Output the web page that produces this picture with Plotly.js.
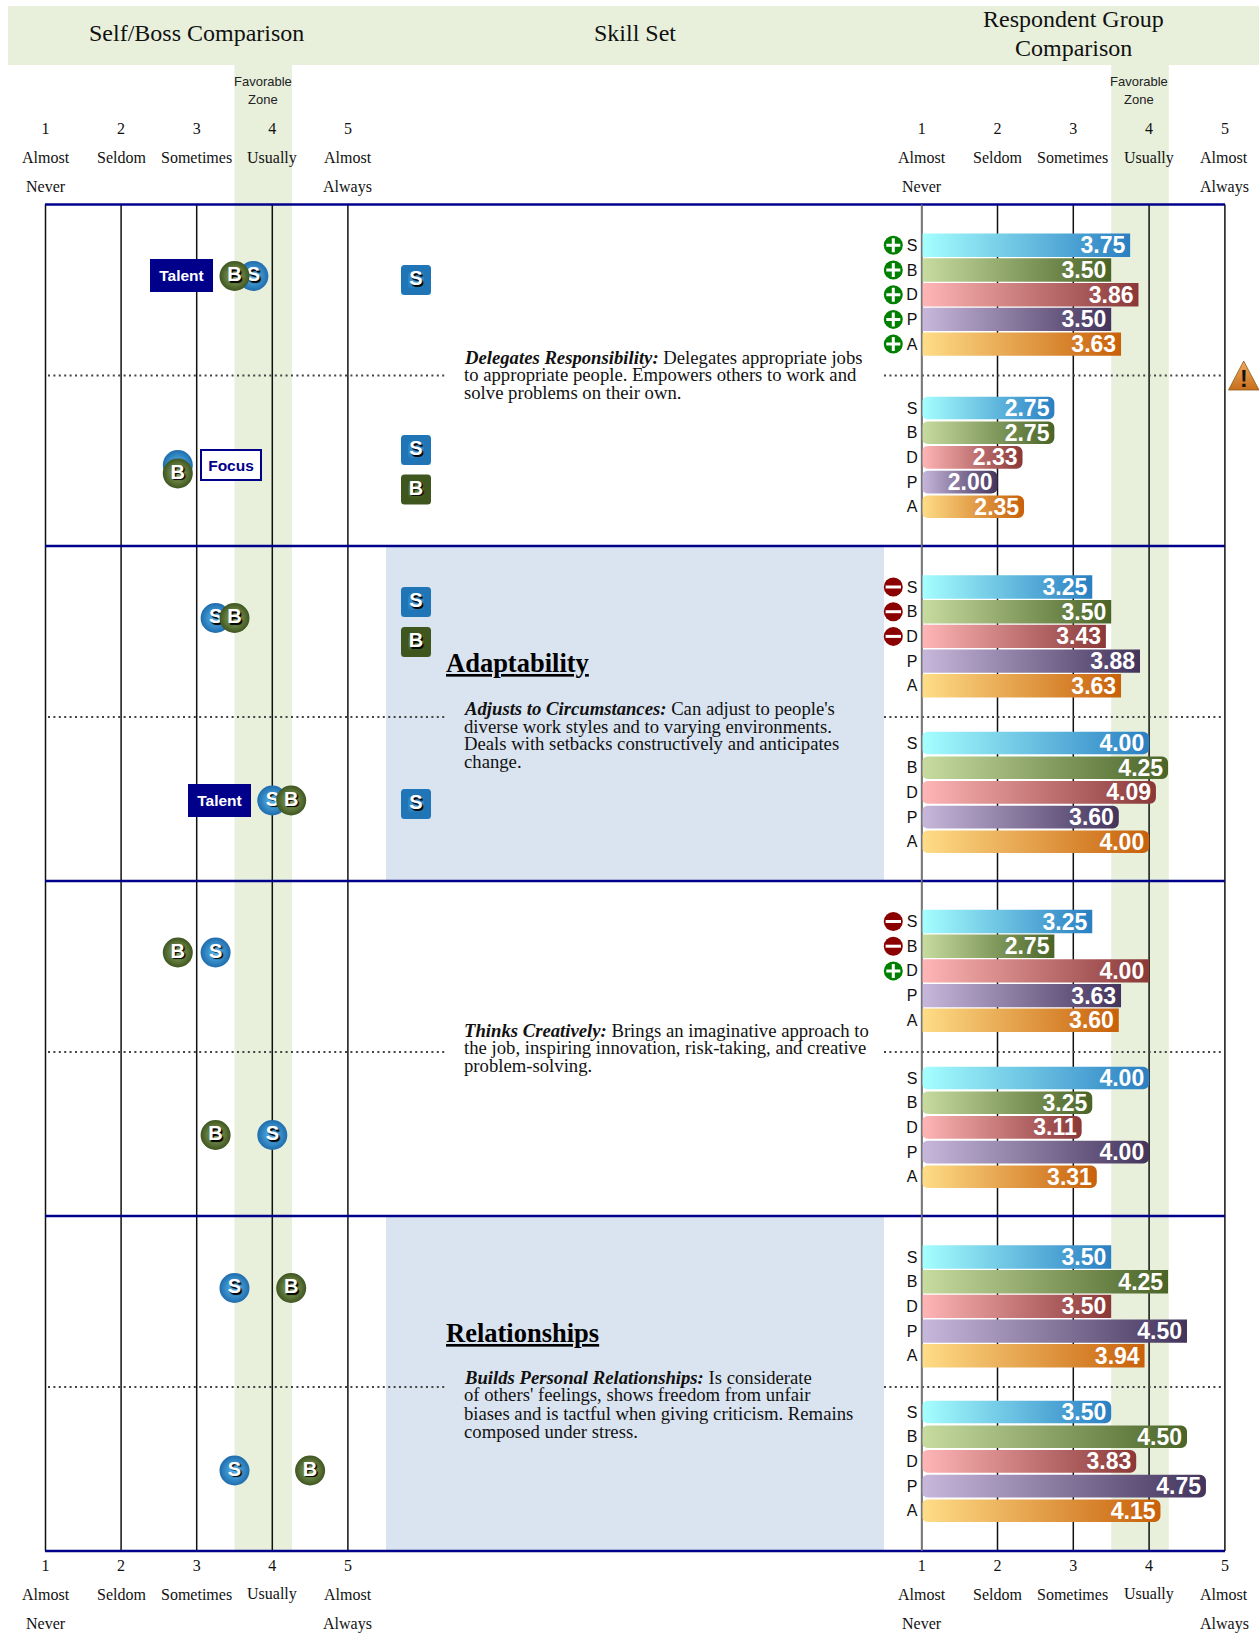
<!DOCTYPE html>
<html><head><meta charset="utf-8">
<script src="https://cdn.plot.ly/plotly-3.0.1.min.js"></script>
<style>
html,body{margin:0;padding:0;background:#fff;overflow:hidden}
#chart{width:1259px;height:1634px}
.scatterlayer path.point{stroke-linejoin:round}
</style></head><body><div id="chart"></div>
<script>
// ---------- data ----------
const scalePoints=[1,2,3,4,5];
const scaleWordsTop=['Almost','Seldom','Sometimes','Usually','Almost'];
const scaleWordsBottom=['Never','','','','Always'];
const groups=['S','B','D','P','A'];
const headers=['Self/Boss Comparison','Skill Set','Respondent Group','Comparison'];
const upperSelf=[3.75,3.25,3.25,3.50];
const upperBoss=[3.50,3.50,2.75,4.25];
const upperDirect=[3.86,3.43,4.00,3.50];
const upperPeer=[3.50,3.88,3.63,4.50];
const upperAll=[3.63,3.63,3.60,3.94];
const lowerSelf=[2.75,4.00,4.00,3.50];
const lowerBoss=[2.75,4.25,3.25,4.50];
const lowerDirect=[2.33,4.09,3.11,3.83];
const lowerPeer=[2.00,3.60,4.00,4.75];
const lowerAll=[2.35,4.00,3.31,4.15];
const upperFlags=[['+','+','+','+','+'],['-','-','-','',''],['-','-','+','',''],['','','','','']];
const competencyTitles=['','Adaptability','','Relationships'];
const descriptions=[
 ["<b><i>Delegates Responsibility:</i></b> Delegates appropriate jobs","to appropriate people. Empowers others to work and","solve problems on their own."],
 ["<b><i>Adjusts to Circumstances:</i></b> Can adjust to people's","diverse work styles and to varying environments.","Deals with setbacks constructively and anticipates","change."],
 ["<b><i>Thinks Creatively:</i></b> Brings an imaginative approach to","the job, inspiring innovation, risk-taking, and creative","problem-solving."],
 ["<b><i>Builds Personal Relationships:</i></b> Is considerate","of others' feelings, shows freedom from unfair","biases and is tactful when giving criticism. Remains","composed under stress."]
];

// ---------- layout geometry (pixels) ----------
const W=1259,H=1634;
const sectionLines=[204.5,546,881,1216,1551];
const midLines=[375.5,717,1052,1387];
const upperBarY=[245.3,587,921.5,1257], lowerBarY=[408,743,1078,1412], rowStep=24.7;
const upperDotY=[276,618,952.5,1288], lowerDotY=[465,800.5,1135,1470.5];
const lowerBossDotY=[473.5,800.5,1135,1470.5];
const descY=[[357,374.5,392],[708,726,743.5,761],[1030,1047.5,1065.5],[1377,1394.5,1413,1431]];
const titleY=[0,663,0,1333];
const LS=75.6,RS=75.8,L0=45.5,R0=921.7;
const lx=px=>1+(px-L0)/LS, rx=px=>1+(px-R0)/RS;
const PX=px=>px/W, PY=py=>1-py/H;

const serif='"Liberation Serif","Times New Roman",serif', sans='"Liberation Sans",Arial,sans-serif';
const NAVY='#00008b', ZONE='#e8f0dc', PANEL='#dae4f0';
const shadow='1.5px 1.5px 1px #000';
const fam={S:['#a6ffff','#2a7fc2'],B:['#c8dca0','#4a6428'],D:['#ffb6b6','#8a3838'],P:['#c8b8dc','#43345c'],A:['#ffdd88','#c8600a']};

const traces=[];
const upperVals=[upperSelf,upperBoss,upperDirect,upperPeer,upperAll];
const lowerVals=[lowerSelf,lowerBoss,lowerDirect,lowerPeer,lowerAll];
function barTrace(vals,i,ys,h){
  return {type:'bar',orientation:'h',xaxis:'x2',yaxis:'y',base:1,
    x:vals.map(v=>v-1),y:ys.map(y=>y+i*rowStep),width:h,
    text:vals.map(v=>v.toFixed(2)+'\u200a'),textposition:'inside',insidetextanchor:'end',textangle:0,constraintext:'none',
    insidetextfont:{family:sans,size:23,color:'#fff',weight:700},
    marker:{color:fam[groups[i]][1],line:{width:0}},hoverinfo:'skip',showlegend:false};
}
groups.forEach((g,i)=>traces.push(barTrace(upperVals[i],i,upperBarY,23.4)));
groups.forEach((g,i)=>traces.push(barTrace(lowerVals[i],i,lowerBarY,22.6)));

// group letters beside the bars
const letX=[],letY=[],letT=[];
[upperBarY,lowerBarY].forEach(ys=>ys.forEach(y0=>groups.forEach((g,i)=>{letX.push(rx(912));letY.push(y0+i*rowStep+1.5);letT.push(g);})));
traces.push({type:'scatter',mode:'text',xaxis:'x2',yaxis:'y',x:letX,y:letY,text:letT,cliponaxis:false,
  textfont:{family:sans,size:16,color:'#111'},hoverinfo:'skip',showlegend:false});

// plus / minus flags
const flagPts={'+':{x:[],y:[]},'-':{x:[],y:[]}};
upperFlags.forEach((row,s)=>row.forEach((f,i)=>{if(f){flagPts[f].x.push(rx(893.3));flagPts[f].y.push(upperBarY[s]+i*rowStep);}}));
const common={type:'scatter',mode:'markers',xaxis:'x2',yaxis:'y',cliponaxis:false,hoverinfo:'skip',showlegend:false};
traces.push({...common,...flagPts['+'],marker:{symbol:'circle',size:19,color:'#008000'}});
traces.push({...common,...flagPts['-'],marker:{symbol:'circle',size:19,color:'#8b0000'}});
traces.push({...common,...flagPts['+'],marker:{symbol:'cross-thin',size:10,color:'#fff',line:{color:'#fff',width:3}}});
traces.push({...common,...flagPts['-'],marker:{symbol:'line-ew',size:11,color:'#fff',line:{color:'#fff',width:3}}});

// self and boss circles (same values as the S and B bars)
function dots(letter,vals1,vals2,y1,y2,center,edge,hiddenIdx){
  const xs=vals1.concat(vals2);
  return {type:'scatter',mode:'markers+text',xaxis:'x',yaxis:'y',cliponaxis:false,
    x:xs,y:y1.concat(y2),text:xs.map((_,k)=>k===hiddenIdx?'':letter),textposition:'middle center',
    textfont:{family:sans,size:20,color:'#fff',weight:700,shadow:shadow},
    marker:{symbol:'circle',size:30,color:edge,gradient:{type:'radial',color:center},line:{width:0}},hoverinfo:'skip',showlegend:false};
}
traces.push(dots('S',upperSelf,lowerSelf,upperDotY,lowerDotY,'#5cbcf2','#1f6cac',4));
traces.push(dots('B',upperBoss,lowerBoss,upperDotY,lowerBossDotY,'#93ae66','#3e5520',-1));

// rounded squares
const squareCol=lx(416);
const selfSquareY=[280,450,602,804], bossSquareY=[489.5,642];
function squares(letter,ys,center,edge){
  return {type:'scatter',mode:'markers+text',xaxis:'x',yaxis:'y',cliponaxis:false,
    x:ys.map(()=>squareCol),y:ys,text:ys.map(()=>letter),textposition:'middle center',
    textfont:{family:sans,size:20,color:'#fff',weight:700,shadow:shadow},
    marker:{symbol:'square',size:23,color:edge,gradient:{type:'radial',color:center},line:{color:edge,width:7}},hoverinfo:'skip',showlegend:false};
}
traces.push(squares('S',selfSquareY,'#46a4e0','#2075b6'));
traces.push(squares('B',bossSquareY,'#6a8a38','#3f561e'));

// ---------- shapes ----------
const shapes=[];
shapes.push({type:'rect',xref:'paper',yref:'paper',x0:PX(8),x1:PX(1259),y0:PY(65),y1:PY(6),fillcolor:ZONE,line:{width:0},layer:'below'});
[1,3].forEach(s=>shapes.push({type:'rect',xref:'paper',yref:'paper',x0:PX(386),x1:PX(884),y0:PY(sectionLines[s]),y1:PY(sectionLines[s+1]),fillcolor:PANEL,line:{width:0},layer:'below'}));
['x','x2'].forEach(ax=>shapes.push({type:'rect',xref:ax,yref:'paper',x0:3.5,x1:4.26,y0:PY(1551),y1:PY(65),fillcolor:ZONE,line:{width:0},layer:'below'}));
sectionLines.forEach(y=>shapes.push({type:'line',xref:'paper',yref:'paper',x0:PX(45),x1:PX(1225),y0:PY(y),y1:PY(y),line:{color:NAVY,width:2.5},layer:'above'}));
midLines.forEach(y=>{
  shapes.push({type:'line',xref:'paper',yref:'paper',x0:PX(48),x1:PX(446),y0:PY(y),y1:PY(y),line:{color:'#444',width:2,dash:'2px,3.4px'},layer:'above'});
  shapes.push({type:'line',xref:'paper',yref:'paper',x0:PX(884),x1:PX(1222),y0:PY(y),y1:PY(y),line:{color:'#444',width:2,dash:'2px,3.4px'},layer:'above'});
});
shapes.push({type:'line',xref:'x2',yref:'paper',x0:1,x1:1,y0:PY(sectionLines[0]),y1:PY(sectionLines[4]),line:{color:'#777',width:1.6},layer:'above'});
const WARN='rgb(224, 138, 48)';
shapes.push({type:'path',xref:'paper',yref:'paper',
  path:`M ${PX(1243.7)} ${PY(361)} L ${PX(1259)} ${PY(390)} L ${PX(1228.5)} ${PY(390)} Z`,
  fillcolor:WARN,line:{color:'#8a5a20',width:0.8},layer:'above'});

// ---------- annotations ----------
const ann=[];
function T(text,x,y,font,extra){ann.push(Object.assign({text,xref:'paper',yref:'paper',x:PX(x),y:PY(y),showarrow:false,xanchor:'center',yanchor:'middle',font,borderpad:0},extra||{}));}
const hf={family:serif,size:24,color:'#111'};
T(headers[0],196.5,33.5,hf);T(headers[1],635,33.5,hf);T(headers[2],1073,19.5,hf);T(headers[3],1073,48.5,hf);
[263,1139].forEach(x=>{T('Favorable',x,81.5,{family:sans,size:13,color:'#222'});T('Zone',x,99.5,{family:sans,size:13,color:'#222'});});
const wf={family:serif,size:16,color:'#111'};
[[L0,LS],[R0,75.6]].forEach(([x0,sc])=>scalePoints.forEach((p,i)=>{
  const x=x0+(p-1)*sc;
  [[157.5,186.5],[1594,1623.7]].forEach(r=>{T(scaleWordsTop[i],x,r[0],wf);if(scaleWordsBottom[i])T(scaleWordsBottom[i],x,r[1],wf);});
}));
competencyTitles.forEach((t,s)=>{if(t)T('<b><u>'+t+'</u></b>',445,titleY[s],{family:serif,size:26.5,color:'#000'},{xanchor:'left'});});
descriptions.forEach((lines,s)=>lines.forEach((l,k)=>T(l,462.8,descY[s][k],{family:serif,size:18.7,color:'#111'},{xanchor:'left'})));
T('!',1243.7,379,{family:sans,size:23,color:'#111',weight:700});
function box(text,cx,cy,filled){
  T('<b>'+text+'</b>',cx,cy,{family:sans,size:15.5,color:filled?'#fff':NAVY},{width:filled?59:58,height:filled?29:28,bgcolor:filled?NAVY:'#fff',bordercolor:NAVY,borderwidth:2,align:'center',valign:'middle'});
}
box('Talent',181.5,275.5,true);
box('Focus',231,465,false);
box('Talent',219.5,800,true);

// ---------- axes ----------
const tickBase={tickmode:'array',tickvals:scalePoints,ticktext:scalePoints.map(String),fixedrange:true,
  tickfont:{family:serif,size:16,color:'#111'},ticks:'',zeroline:false,showline:false};
const bottomAx={...tickBase,anchor:'y',side:'bottom',showgrid:true,gridcolor:'#111',gridwidth:1.5,ticklabelstandoff:3};
const topAx={...tickBase,anchor:'y',side:'top',showgrid:false,ticklabelstandoff:66};
const domL=[0,PX(460)],domR=[PX(860),1];
const rangeL=[lx(0),lx(460)],rangeR=[rx(860),rx(1259)];
const layout={width:W,height:H,margin:{l:0,r:0,t:0,b:0,pad:0},paper_bgcolor:'#fff',plot_bgcolor:'rgba(0,0,0,0)',
  showlegend:false,barmode:'overlay',hovermode:false,
  xaxis:{...bottomAx,domain:domL,range:rangeL},xaxis2:{...bottomAx,domain:domR,range:rangeR},
  xaxis3:{...topAx,domain:domL,range:rangeL,overlaying:'x'},xaxis4:{...topAx,domain:domR,range:rangeR,overlaying:'x2'},
  yaxis:{domain:[PY(1551),PY(204.5)],range:[1551,204.5],showgrid:false,zeroline:false,showticklabels:false,ticks:'',showline:false,fixedrange:true},
  shapes,annotations:ann};
traces.push({type:'scatter',mode:'markers',xaxis:'x3',yaxis:'y',x:[null],y:[null],hoverinfo:'skip',showlegend:false});
traces.push({type:'scatter',mode:'markers',xaxis:'x4',yaxis:'y',x:[null],y:[null],hoverinfo:'skip',showlegend:false});

Plotly.newPlot('chart',traces,layout,{displayModeBar:false,staticPlot:true}).then(gd=>{
  // horizontal colour ramps on the bars, rounded ends on the lower tier
  const svg=gd.querySelector('.main-svg');
  const NS='http://www.w3.org/2000/svg';
  const defs=svg.querySelector('defs')||svg.appendChild(document.createElementNS(NS,'defs'));
  function grad(id,c0,c1,vertical){
    const g=document.createElementNS(NS,'linearGradient');g.setAttribute('id',id);
    if(vertical){g.setAttribute('x1','0');g.setAttribute('x2','0');g.setAttribute('y1','0');g.setAttribute('y2','1');}
    [[0,c0],[1,c1]].forEach(([o,c])=>{const s=document.createElementNS(NS,'stop');s.setAttribute('offset',o);s.setAttribute('stop-color',c);g.appendChild(s);});
    defs.appendChild(g);
  }
  groups.forEach(g=>grad('ramp'+g,fam[g][0],fam[g][1]));
  grad('warnRamp','#f2a95c','#c66f1c',true);
  gd.querySelectorAll('.barlayer .trace.bars').forEach((tr,t)=>{
    const g=groups[t%5];
    tr.querySelectorAll('.point path').forEach(p=>{
      p.style.fill='url(#ramp'+g+')';
      if(t>=5){
        const b=p.getBBox(),r=6,x=b.x,y=b.y,w=b.width,h=b.height;
        p.setAttribute('d',`M${x+r},${y}H${x+w-r}A${r},${r} 0 0 1 ${x+w},${y+r}V${y+h-r}A${r},${r} 0 0 1 ${x+w-r},${y+h}H${x+r}A${r},${r} 0 0 1 ${x},${y+h-r}V${y+r}A${r},${r} 0 0 1 ${x+r},${y}Z`);
      }
    });
  });
  gd.querySelectorAll('.shapelayer path').forEach(p=>{if(p.style.fill===WARN)p.style.fill='url(#warnRamp)';});
  gd.querySelectorAll('.gridlayer path').forEach(p=>{p.style.shapeRendering='geometricPrecision';});
});
</script></body></html>
